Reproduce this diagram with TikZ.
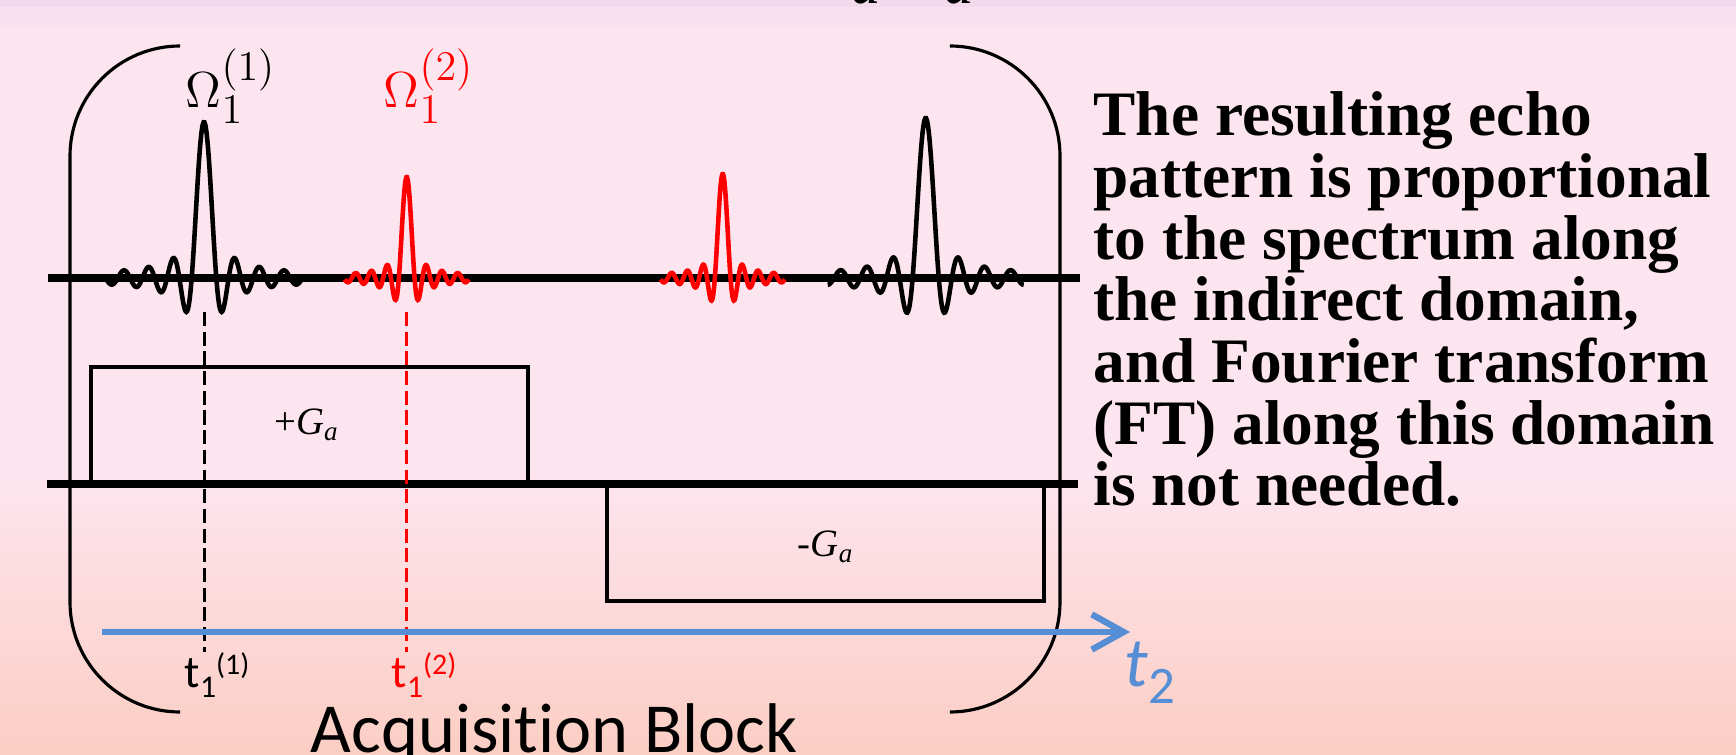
\documentclass[tikz,border=0pt]{standalone}
\usepackage{fontspec}
\setmainfont{Liberation Serif}
\newfontfamily\calib[Ligatures=NoCommon]{Carlito}
\usepackage{xcolor}
\definecolor{slidepink}{RGB}{253,229,240}
\definecolor{slidepeach}{RGB}{251,206,195}
\definecolor{bandtop}{RGB}{242,218,236}
\definecolor{bandmid}{RGB}{248,224,238}
\definecolor{axisblue}{RGB}{85,142,213}
\usepackage{tikz}
\usetikzlibrary{arrows.meta, positioning}
\DeclareMathSizes{14}{14}{11.5}{9}
\newcommand{\tonelabel}[1]{t\raisebox{-3pt}{\fontsize{9}{10}\selectfont 1}\raisebox{3.5pt}{\fontsize{8.5}{9}\selectfont (#1)}}
\tikzset{
  axisline/.style={line width=2.4pt, black},
  gradline/.style={line width=1pt, black},
  bracketline/.style={line width=0.9pt, black, rounded corners=1.1cm},
  echoline/.style={line width=1.3pt, smooth, samples=240},
  markline/.style={line width=0.7pt, dash pattern=on 4pt off 1.6pt},
  timearrow/.style={-{Straight Barb[length=9pt, width=10pt]}, line width=1.8pt, color=axisblue},
  gradlabel/.style={font=\fontsize{11}{12}\selectfont, inner sep=0pt},
  freqlabel/.style={font=\fontsize{14}{16}\selectfont, inner sep=0pt, anchor=base west},
  ticklabel/.style={font=\calib\fontsize{13}{14}\selectfont, inner sep=0pt, anchor=base west},
  notetext/.style={font=\bfseries\fontsize{18}{17.55}\selectfont, align=left, inner sep=0pt}
}

\begin{document}
\begin{tikzpicture}[x=0.01cm, y=-0.01cm]

  \useasboundingbox (0,0) rectangle (1736,755);

  % slide background
  \fill[slidepink] (0,0) rectangle (1736,755);
  \fill[bandtop] (0,0) rectangle (1736,7);
  \fill[bandmid] (0,7) rectangle (1736,27);
  \shade[top color=slidepink, bottom color=slidepeach] (0,470) rectangle (1736,755);

  \node[anchor=south, inner sep=0pt, font=\itshape\fontsize{24}{26}\selectfont]
    (topformula) at (902,5) {t\textsubscript{a}G\textsubscript{a}};

  % acquisition block brackets
  \draw[bracketline] (180,46) -- (70,46) -- (70,712) -- (180,712);
  \draw[bracketline] (950,46) -- (1060,46) -- (1060,712) -- (950,712);

  % echo channel
  \draw[axisline] (48,278) -- (1080,278);
  \draw[echoline, domain=-98:98] plot (\x+204, {278-156*sin(14.61*\x)/(0.255*\x)});
  \draw[echoline, red, domain=-62:62] plot (\x+406.7, {278-101*sin(22.92*\x)/(0.4*\x)});
  \draw[echoline, red, domain=-62:62] plot (\x+722.7, {278-104*sin(22.92*\x)/(0.4*\x)});
  \draw[echoline, domain=-98:98] plot (\x+925.7, {278-160*sin(13.75*\x)/(0.24*\x)});

  \node[freqlabel] (omegaA) at (185,108) {$\Omega_1^{(1)}$};
  \node[freqlabel, text=red] (omegaB) at (383,108) {$\Omega_1^{(2)}$};

  % gradient channel
  \draw[axisline] (47,484) -- (1078,484);
  \draw[gradline] (91,484) |- (528,367) -- (528,484);
  \draw[gradline] (607,484) |- (1044,601) -- (1044,484);
  \node[gradlabel] (plusG) at (307,425) {+\textit{G}\textsubscript{\textit{a}}};
  \node[gradlabel] (minusG) at (826,547) {-\textit{G}\textsubscript{\textit{a}}};

  % t1 markers
  \coordinate (echoA) at (204.5,312);
  \coordinate (tickA) at (204.5,652);
  \coordinate (echoB) at (406.5,312);
  \coordinate (tickB) at (406.5,652);
  \draw[markline] (echoA) -- (tickA);
  \draw[markline, red] (echoB) -- (tickB);
  \node[ticklabel] (tA) at (184,687) {\tonelabel{1}};
  \node[ticklabel, text=red] (tB) at (391,687) {\tonelabel{2}};

  % t2 axis
  \coordinate (tstart) at (102,632);
  \coordinate (tend) at (1130,632);
  \draw[timearrow] (tstart) -- (tend);
  \node[anchor=base west, inner sep=0pt, font=\calib\fontsize{20}{22}\selectfont, text=axisblue]
    (taxis) at (1124,686) {\itshape t\raisebox{-5pt}{\upshape\fontsize{15}{16}\selectfont 2}};

  \node[anchor=base west, inner sep=0pt, font=\calib\fontsize{20}{22}\selectfont]
    (acqblock) at (310,752) {Acquisition Block};

  \node[notetext, anchor=north west] (remark) at (1093,91)
    {The resulting echo\\
     pattern is proportional\\
     to the spectrum along\\
     the indirect domain,\\
     and Fourier transform\\
     (FT) along this domain\\
     is not needed.};

\end{tikzpicture}
\end{document}
